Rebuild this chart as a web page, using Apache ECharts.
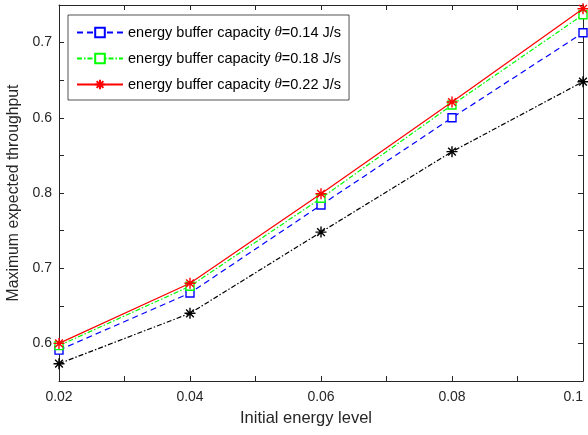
<!DOCTYPE html>
<html><head><meta charset="utf-8">
<script src="https://cdn.jsdelivr.net/npm/echarts@6/dist/echarts.min.js"></script>
<style>html,body{margin:0;padding:0;background:#fff}#c{width:588px;height:435px}</style>
</head><body><div id="c"></div>
<script>
const xValues = [0.02, 0.04, 0.06, 0.08, 0.1];
const seriesNames = ['energy buffer capacity θ=0.14 J/s', 'energy buffer capacity θ=0.18 J/s', 'energy buffer capacity θ=0.22 J/s', 'baseline'];
const blueVals = [0.591, 0.667, 0.784, 0.900, 1.013];
const greenVals = [0.597, 0.676, 0.793, 0.917, 1.037];
const redVals = [0.600, 0.680, 0.799, 0.921, 1.045];
const blackVals = [0.573, 0.640, 0.748, 0.855, 0.948];
const yTickValues = [0.6, 0.7, 0.8, 0.9, 1.0];
const yTickLabels = ['0.6', '0.7', '0.8', '0.6', '0.7'];
const xTickValues = [0.02, 0.04, 0.06, 0.08, 0.1];
const xTickLabels = ['0.02', '0.04', '0.06', '0.08', '0.1'];

const starPath = 'path://M0,-10L0,10M-10,0L10,0M-7,-7L7,7M-7,7L7,-7';
const axisColor = '#262626';
const font = 'Liberation Sans, Arial, Helvetica, sans-serif';

function pairs(vals){ return xValues.map((x,i)=>[x, vals[i]]); }
function yLab(v){ for(let i=0;i<yTickValues.length;i++){ if(Math.abs(v-yTickValues[i])<1e-6) return yTickLabels[i]; } return ''; }
function xLab(v){ for(let i=0;i<xTickValues.length;i++){ if(Math.abs(v-xTickValues[i])<1e-6) return xTickLabels[i]; } return ''; }

const chart = echarts.init(document.getElementById('c'), null, {renderer:'canvas'});
const baseAxisLine = {show:true, lineStyle:{color:axisColor, width:1}};
const tick = {show:true, inside:true, length:5, lineStyle:{color:axisColor, width:1}};
function legendFmt(name){ return name.replace('θ', '{i|θ}'); }

chart.setOption({
  animation:false,
  backgroundColor:'#fff',
  grid:{left:59, right:5, top:5, bottom:54, containLabel:false, outerBoundsMode:'none'},
  xAxis:[{
    type:'value', min:0.02, max:0.1, interval:0.01,
    name:'Initial energy level', nameLocation:'middle', nameGap:29,
    nameTextStyle:{fontFamily:font, fontSize:16.5, color:axisColor, padding:[0,30,0,0]},
    axisLine:baseAxisLine, axisTick:tick, splitLine:{show:false},
    axisLabel:{fontFamily:font, fontSize:14, color:axisColor, margin:9, formatter:xLab, showMinLabel:true, showMaxLabel:true, alignMaxLabel:'right'}
  },{
    type:'value', position:'top', min:0.02, max:0.1, interval:0.01,
    axisLine:baseAxisLine, axisTick:tick, axisLabel:{show:false}, splitLine:{show:false}
  }],
  yAxis:[{
    type:'value', min:0.55, max:1.05, interval:0.05,
    name:'Maximum expected throughput', nameLocation:'middle', nameGap:36,
    nameTextStyle:{fontFamily:font, fontSize:15.8, color:axisColor},
    axisLine:baseAxisLine, axisTick:tick, splitLine:{show:false},
    axisLabel:{fontFamily:font, fontSize:14, color:axisColor, margin:7, formatter:yLab}
  },{
    type:'value', position:'right', min:0.55, max:1.05, interval:0.05,
    axisLine:baseAxisLine, axisTick:tick, axisLabel:{show:false}, splitLine:{show:false}
  }],
  legend:{
    show:true, left:68, top:15, orient:'vertical',
    data:seriesNames.slice(0,3),
    itemWidth:46, itemHeight:12, itemGap:11,
    padding:[10,8,8,8],
    backgroundColor:'#fff', borderColor:'#262626', borderWidth:0.8, borderRadius:0,
    formatter:legendFmt,
    textStyle:{fontFamily:font, fontSize:14.5, color:'#000', rich:{i:{fontFamily:'Liberation Serif, serif', fontStyle:'italic', fontSize:15, color:'#000'}}}
  },
  series:[
    {name:seriesNames[0], type:'line', data:pairs(blueVals), symbol:'rect', symbolSize:8,
     lineStyle:{color:'#0000ff', width:1.2, type:[6,4]},
     itemStyle:{color:'#fff', borderColor:'#0000ff', borderWidth:1.4}, z:3},
    {name:seriesNames[1], type:'line', data:pairs(greenVals), symbol:'rect', symbolSize:8,
     lineStyle:{color:'#00ff00', width:1.2, type:[5,2,1.5,2]},
     itemStyle:{color:'#fff', borderColor:'#00ff00', borderWidth:1.4}, z:4},
    {name:seriesNames[2], type:'line', data:pairs(redVals), symbol:starPath, symbolSize:11,
     lineStyle:{color:'#ff0000', width:1.2, type:'solid'},
     itemStyle:{color:'none', borderColor:'#ff0000', borderWidth:1.4}, z:5},
    {name:seriesNames[3], type:'line', data:pairs(blackVals), symbol:starPath, symbolSize:11,
     lineStyle:{color:'#000', width:1.2, type:[5,2,1.5,2]},
     itemStyle:{color:'none', borderColor:'#000', borderWidth:1.4}, z:2}
  ]
});
</script></body></html>
